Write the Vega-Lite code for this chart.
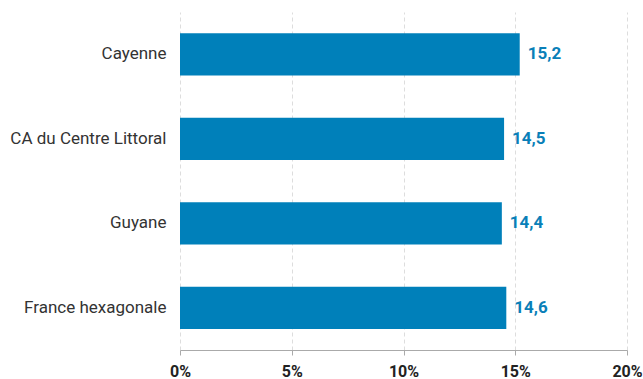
{
  "$schema": "https://vega.github.io/schema/vega-lite/v6.json",
  "width": 447,
  "height": 338,
  "autosize": {"type": "none"},
  "padding": {"left": 180, "top": 12, "right": 16, "bottom": 29},
  "background": "white",
  "config": {
    "view": {"stroke": null},
    "font": "Roboto",
    "locale": {"number": {"decimal": ",", "thousands": " ", "grouping": [3], "currency": ["", " €"]}}
  },
  "data": {
    "values": [
      {"territoire": "Cayenne", "valeur": 15.2},
      {"territoire": "CA du Centre Littoral", "valeur": 14.5},
      {"territoire": "Guyane", "valeur": 14.4},
      {"territoire": "France hexagonale", "valeur": 14.6}
    ]
  },
  "encoding": {
    "y": {
      "field": "territoire",
      "type": "nominal",
      "sort": null,
      "scale": {"paddingInner": 0.5, "paddingOuter": 0.25},
      "axis": {
        "title": null,
        "domain": false,
        "ticks": false,
        "labelFont": "Roboto",
        "labelFontSize": 17,
        "labelColor": "#333333",
        "labelPadding": 14
      }
    },
    "x": {
      "field": "valeur",
      "type": "quantitative",
      "scale": {"domain": [0, 20], "nice": false},
      "axis": {
        "title": null,
        "values": [0, 5, 10, 15, 20],
        "labelExpr": "datum.value + '%'",
        "labelFlush": false,
        "labelOverlap": false,
        "labelFont": "Roboto",
        "labelFontSize": 16,
        "labelFontWeight": "bold",
        "labelColor": "#222222",
        "labelPadding": 8,
        "domainColor": "#aaaaaa",
        "tickColor": "#aaaaaa",
        "tickSize": 5,
        "grid": true,
        "gridColor": "#dddddd",
        "gridDash": [4, 3]
      }
    }
  },
  "layer": [
    {"mark": {"type": "bar", "color": "#0080ba"}},
    {
      "mark": {"type": "text", "align": "left", "baseline": "middle", "dx": 8, "font": "Roboto", "fontSize": 17, "fontWeight": "bold", "color": "#0a7fb8"},
      "encoding": {"text": {"field": "valeur", "type": "quantitative", "format": ".1f"}}
    }
  ]
}
